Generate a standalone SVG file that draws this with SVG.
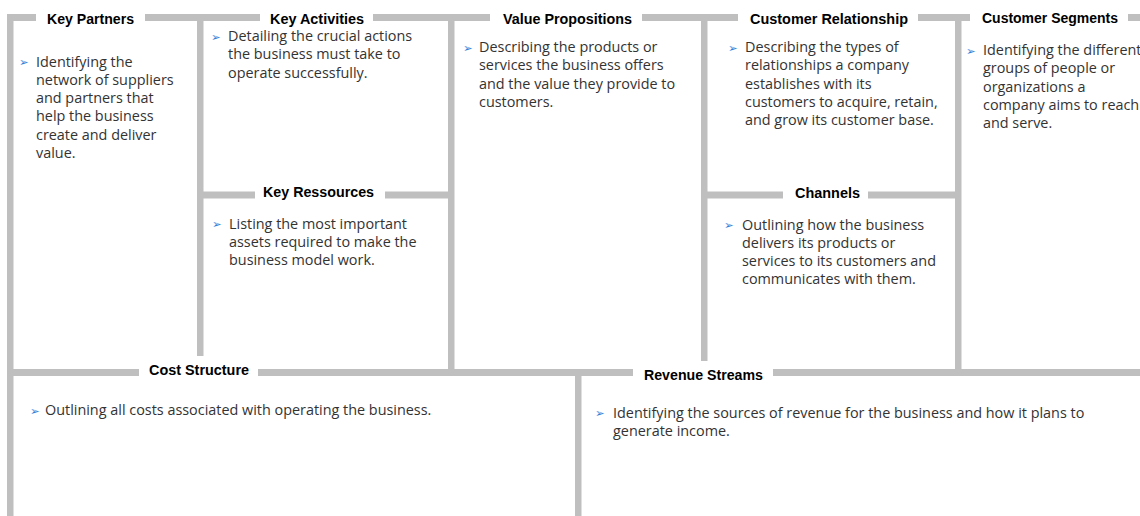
<svg xmlns="http://www.w3.org/2000/svg" width="1140" height="516" viewBox="0 0 1140 516">
<style>
.bar{fill:#bfbfbf}
.t{font-family:"Liberation Sans",Arial,sans-serif;font-weight:bold;font-size:14px;fill:#000}
.d{font-family:"Open Sans","Noto Sans",sans-serif;font-size:14.4px;fill:#333}
.b{font-family:"DejaVu Sans",sans-serif;font-size:11.5px;fill:#2f80d8}
</style>
<rect width="1140" height="516" fill="#fff"/>
<g id="grid">
<rect class="bar" x="7" y="14" width="29" height="7"/>
<rect class="bar" x="145" y="14" width="115" height="7"/>
<rect class="bar" x="373" y="14" width="117" height="7"/>
<rect class="bar" x="642" y="14" width="96" height="7"/>
<rect class="bar" x="918" y="14" width="52" height="7"/>
<rect class="bar" x="1128" y="14" width="12" height="7"/>
<rect class="bar" x="7" y="14" width="6.5" height="502"/>
<rect class="bar" x="197" y="14" width="6.5" height="342"/>
<rect class="bar" x="448" y="14" width="6.5" height="362"/>
<rect class="bar" x="701" y="14" width="6.5" height="347"/>
<rect class="bar" x="955" y="14" width="6.5" height="362"/>
<rect class="bar" x="575" y="369" width="6.5" height="147"/>
<rect class="bar" x="203" y="191.5" width="52" height="7"/>
<rect class="bar" x="385" y="191.5" width="63" height="7"/>
<rect class="bar" x="707" y="191.5" width="76" height="7"/>
<rect class="bar" x="868" y="191.5" width="87" height="7"/>
<rect class="bar" x="7" y="369" width="132" height="7"/>
<rect class="bar" x="258" y="369" width="375" height="7"/>
<rect class="bar" x="773" y="369" width="367" height="7"/>
</g>
<g id="key-partners">
<text class="t" x="47" y="24" textLength="87" lengthAdjust="spacingAndGlyphs">Key Partners</text>
<text class="b" x="19" y="66">➢</text>
<text class="d"><tspan x="36" y="66.5">Identifying the</tspan><tspan x="36" y="84.8">network of suppliers</tspan><tspan x="36" y="103.1">and partners that</tspan><tspan x="36" y="121.4">help the business</tspan><tspan x="36" y="139.7">create and deliver</tspan><tspan x="36" y="158">value.</tspan></text>
</g>
<g id="key-activities">
<text class="t" x="270" y="24" textLength="94" lengthAdjust="spacingAndGlyphs">Key Activities</text>
<text class="b" x="211" y="40.5">➢</text>
<text class="d"><tspan x="228" y="41">Detailing the crucial actions</tspan><tspan x="228" y="59.3">the business must take to</tspan><tspan x="228" y="77.6">operate successfully.</tspan></text>
</g>
<g id="key-ressources">
<text class="t" x="263" y="197" textLength="111" lengthAdjust="spacingAndGlyphs">Key Ressources</text>
<text class="b" x="212" y="228">➢</text>
<text class="d"><tspan x="229" y="228.5">Listing the most important</tspan><tspan x="229" y="246.8">assets required to make the</tspan><tspan x="229" y="265.1">business model work.</tspan></text>
</g>
<g id="value-propositions">
<text class="t" x="503" y="24" textLength="129" lengthAdjust="spacingAndGlyphs">Value Propositions</text>
<text class="b" x="463" y="51.5">➢</text>
<text class="d"><tspan x="479" y="52">Describing the products or</tspan><tspan x="479" y="70.3">services the business offers</tspan><tspan x="479" y="88.6">and the value they provide to</tspan><tspan x="479" y="106.9">customers.</tspan></text>
</g>
<g id="customer-relationship">
<text class="t" x="750" y="24" textLength="158" lengthAdjust="spacingAndGlyphs">Customer Relationship</text>
<text class="b" x="728" y="51.5">➢</text>
<text class="d"><tspan x="745" y="52">Describing the types of</tspan><tspan x="745" y="70.3">relationships a company</tspan><tspan x="745" y="88.6">establishes with its</tspan><tspan x="745" y="106.9">customers to acquire, retain,</tspan><tspan x="745" y="125.2">and grow its customer base.</tspan></text>
</g>
<g id="customer-segments">
<text class="t" x="982" y="23" textLength="136" lengthAdjust="spacingAndGlyphs">Customer Segments</text>
<text class="b" x="966" y="54.5">➢</text>
<text class="d"><tspan x="983" y="55">Identifying the different</tspan><tspan x="983" y="73.3">groups of people or</tspan><tspan x="983" y="91.6">organizations a</tspan><tspan x="983" y="109.9">company aims to reach</tspan><tspan x="983" y="128.2">and serve.</tspan></text>
</g>
<g id="channels">
<text class="t" x="795" y="198" textLength="65" lengthAdjust="spacingAndGlyphs">Channels</text>
<text class="b" x="724" y="229">➢</text>
<text class="d"><tspan x="742" y="229.5">Outlining how the business</tspan><tspan x="742" y="247.8">delivers its products or</tspan><tspan x="742" y="266.1">services to its customers and</tspan><tspan x="742" y="284.4">communicates with them.</tspan></text>
</g>
<g id="cost-structure">
<text class="t" x="149" y="375" textLength="100" lengthAdjust="spacingAndGlyphs">Cost Structure</text>
<text class="b" x="30" y="414.5">➢</text>
<text class="d"><tspan x="45" y="415">Outlining all costs associated with operating the business.</tspan></text>
</g>
<g id="revenue-streams">
<text class="t" x="644" y="380" textLength="119" lengthAdjust="spacingAndGlyphs">Revenue Streams</text>
<text class="b" x="595" y="417">➢</text>
<text class="d"><tspan x="613" y="417.5">Identifying the sources of revenue for the business and how it plans to</tspan><tspan x="613" y="435.8">generate income.</tspan></text>
</g>
</svg>
